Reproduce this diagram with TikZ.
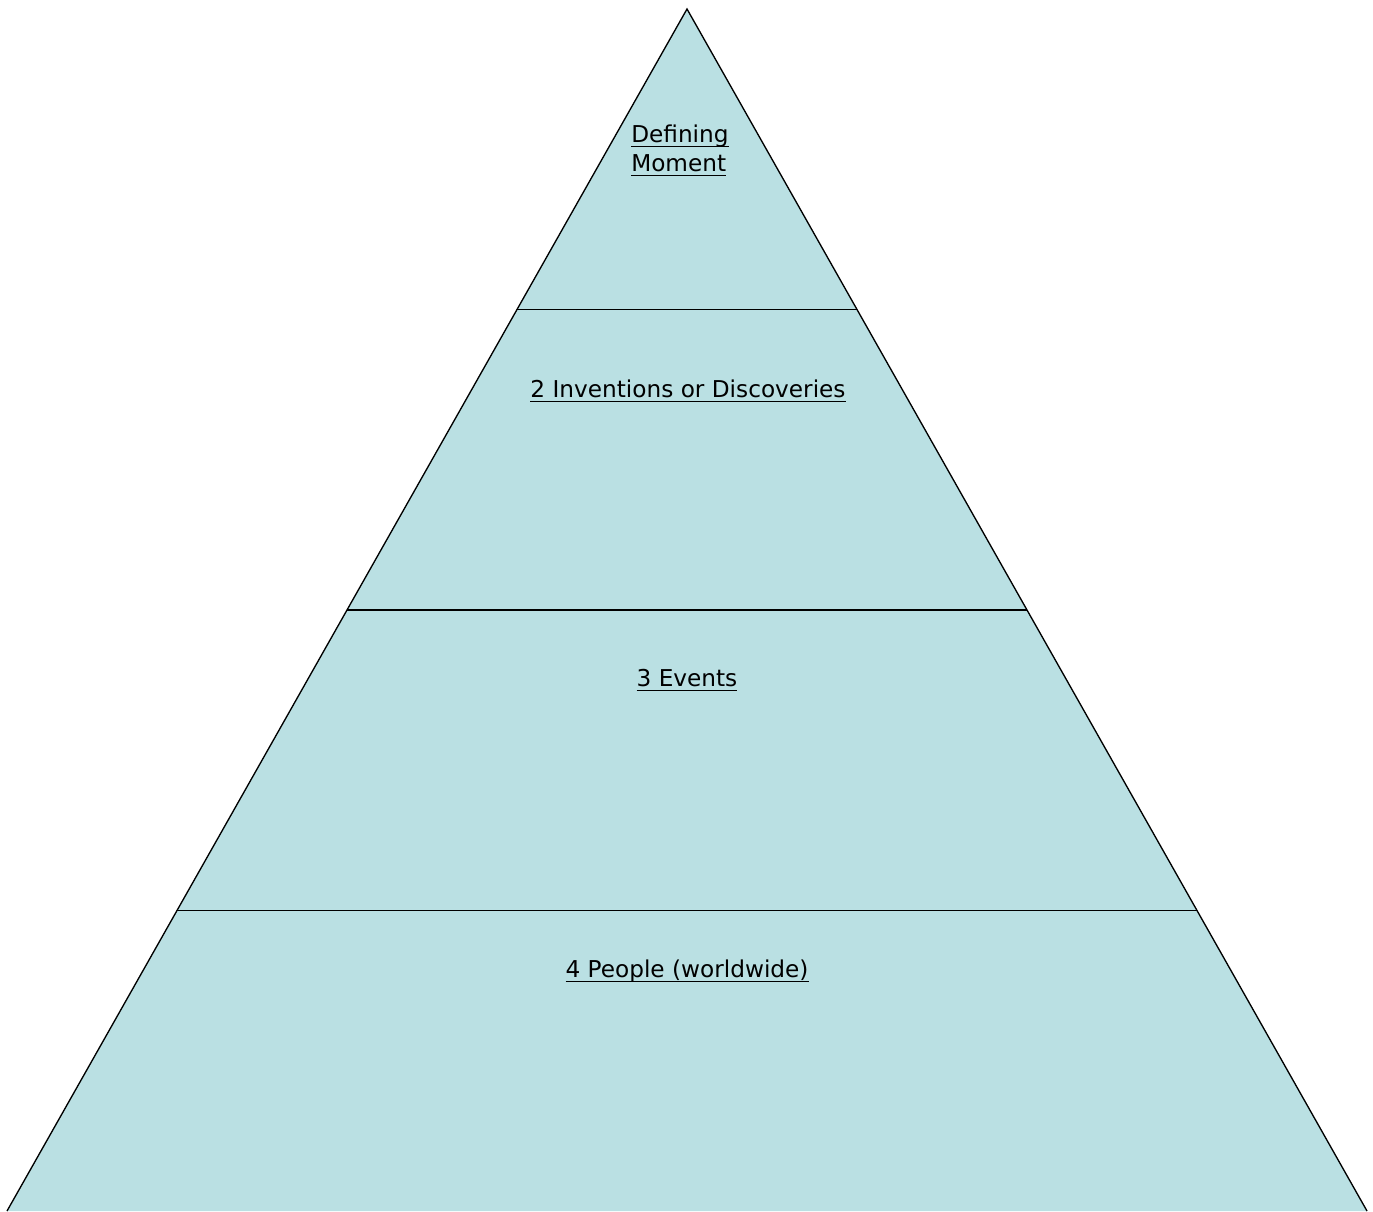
\documentclass[tikz,border=0pt]{standalone}
\usepackage{fontspec}
\setmainfont{DejaVu Sans}
\usepackage{tikz}
\usetikzlibrary{calc,positioning}
\definecolor{pyrfill}{RGB}{186,224,227}
\newlength{\tierulw}
\newcommand{\tierul}[1]{\settowidth{\tierulw}{#1}\rlap{#1}\rule[-4pt]{\tierulw}{1.2pt}}

\begin{document}
\begin{tikzpicture}[x=0.75pt, y=-0.75pt]
    % Define styles
    \tikzset{
        edge/.style={draw=black, line width=1pt},
        tier/.style={font=\fontsize{17.4}{21.75}\selectfont, inner sep=0pt, anchor=base}
    }
    \useasboundingbox (0,0) rectangle (1373,1211);

    % Corners
    \coordinate (apex) at (687,9);
    \coordinate (bl) at (7,1211);
    \coordinate (br) at (1367,1211);

    % Pyramid
    \fill[pyrfill] (apex) -- (bl) -- (br) -- cycle;
    \draw[edge, line join=miter] (bl) -- (apex) -- (br);

    % Dividers
    \coordinate (l1) at ($(apex)!0.25!(bl)$);
    \coordinate (r1) at ($(apex)!0.25!(br)$);
    \coordinate (l2) at ($(apex)!0.5!(bl)$);
    \coordinate (r2) at ($(apex)!0.5!(br)$);
    \coordinate (l3) at ($(apex)!0.75!(bl)$);
    \coordinate (r3) at ($(apex)!0.75!(br)$);
    \draw[edge] (l1) -- (r1);
    \draw[edge] (l2) -- (r2);
    \draw[edge] (l3) -- (r3);

    % Labels
    \node[tier, anchor=base west, align=left] (moment) at (631,171) {\tierul{Defining}\\\tierul{Moment}};
    \node[tier] (invent) at (688,397) {\tierul{2 Inventions or Discoveries}};
    \node[tier] (events) at (687,686) {\tierul{3 Events}};
    \node[tier] (people) at (687,977) {\tierul{4 People (worldwide)}};
\end{tikzpicture}
\end{document}
